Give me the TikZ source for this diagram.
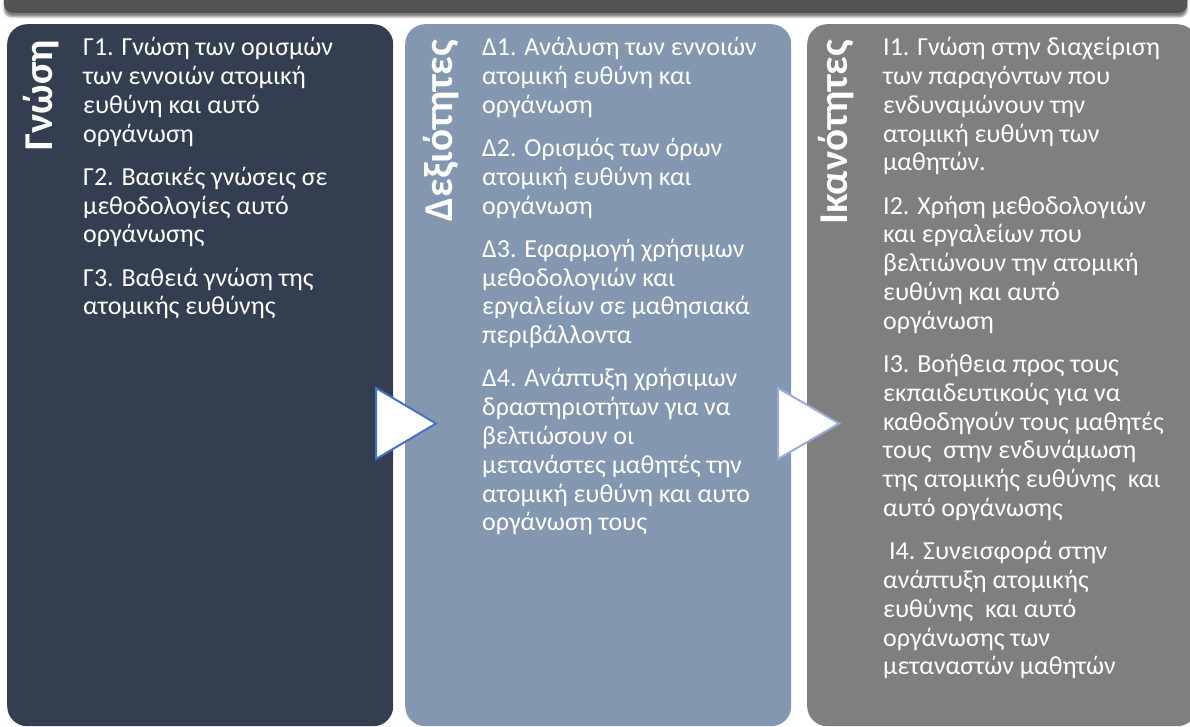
\documentclass[tikz,border=0pt]{standalone}
\usepackage{fontspec}
\setmainfont{Carlito}
\usetikzlibrary{positioning, shadows.blur}
\definecolor{barGray}{HTML}{535353}
\definecolor{knowFill}{HTML}{333F50}
\definecolor{skillFill}{HTML}{8497B0}
\definecolor{abilFill}{HTML}{7F7F7F}
\definecolor{triBlue}{HTML}{4472C4}
\definecolor{triLight}{HTML}{9DABDD}

\begin{document}
\begin{tikzpicture}[x=1pt, y=-1pt,
						panel/.style={rectangle, rounded corners=20pt, minimum width=386pt, minimum height=702pt, anchor=north west, inner sep=0pt},
						title/.style={rotate=90, anchor=base east, inner sep=0pt, text=white, font=\fontsize{41}{44}\selectfont\bfseries},
						item/.style={inner sep=0pt, align=left, text=white, font=\fontsize{26}{28.8}\selectfont},
						tri/.style={fill=white, line width=2pt, line join=miter},]
		\useasboundingbox (0,0) rectangle (1190,726);
		\node (bar) [rectangle, rounded corners=8pt, fill=barGray, minimum width=1183pt, minimum height=40pt, anchor=south west, inner sep=0pt,
			blur shadow={shadow xshift=0pt, shadow yshift=-4pt, shadow blur steps=6, shadow opacity=50}] at (4,13) {};

		\node (know) [panel, fill=knowFill] at (7,24) {};
		\node (skill) [panel, fill=skillFill] at (405,24) {};
		\node (abil) [panel, fill=abilFill, minimum width=390pt] at (807,24) {};

		% arrows between the columns
		\draw[tri, draw=triBlue] (376,388) -- (436,423.5) -- (376,459) -- cycle;
		\draw[tri, draw=triLight] (778,388) -- (839,423.5) -- (778,459) -- cycle;

		\node (know_t) [title] at (52.7,40) {Γνώση};
		\node (skill_t) [title] at (452.7,40) {Δεξιότητες};
		\node (abil_t) [title] at (847,40) {Ικανότητες};

		\node (g1) [item, anchor=north west] at (83,35.4) {\strut Γ1. Γνώση των ορισμών\\των εννοιών ατομική\\ευθύνη και αυτό\\οργάνωση\strut};
		\node (g2) [item, below right=14pt and 0pt of g1.south west] {\strut Γ2. Βασικές γνώσεις σε\\μεθοδολογίες αυτό\\οργάνωσης\strut};
		\node (g3) [item, below right=14pt and 0pt of g2.south west] {\strut Γ3. Βαθειά γνώση της\\ατομικής ευθύνης\strut};

		\node (d1) [item, anchor=north west] at (482,35.4) {\strut Δ1. Ανάλυση των εννοιών\\ατομική ευθύνη και\\οργάνωση\strut};
		\node (d2) [item, below right=14pt and 0pt of d1.south west] {\strut Δ2. Ορισμός των όρων\\ατομική ευθύνη και\\οργάνωση\strut};
		\node (d3) [item, below right=14pt and 0pt of d2.south west] {\strut Δ3. Εφαρμογή χρήσιμων\\μεθοδολογιών και\\εργαλείων σε μαθησιακά\\περιβάλλοντα\strut};
		\node (d4) [item, below right=14pt and 0pt of d3.south west] {\strut Δ4. Ανάπτυξη χρήσιμων\\δραστηριοτήτων για να\\βελτιώσουν οι\\μετανάστες μαθητές την\\ατομική ευθύνη και αυτο\\οργάνωση τους\strut};

		\node (i1) [item, anchor=north west] at (883,35.4) {\strut Ι1. Γνώση στην διαχείριση\\των παραγόντων που\\ενδυναμώνουν την\\ατομική ευθύνη των\\μαθητών.\strut};
		\node (i2) [item, below right=14pt and 0pt of i1.south west] {\strut Ι2. Χρήση μεθοδολογιών\\και εργαλείων που\\βελτιώνουν την ατομική\\ευθύνη και αυτό\\οργάνωση\strut};
		\node (i3) [item, below right=14pt and 0pt of i2.south west] {\strut Ι3. Βοήθεια προς τους\\εκπαιδευτικούς για να\\καθοδηγούν τους μαθητές\\τους\ \ στην ενδυνάμωση\\της ατομικής ευθύνης\ \ και\\αυτό οργάνωσης\strut};
		\node (i4) [item, below right=14pt and 0pt of i3.south west] {\strut\ Ι4. Συνεισφορά στην\\ανάπτυξη ατομικής\\ευθύνης\ \ και αυτό\\οργάνωσης των\\μεταναστών μαθητών\strut};
	\end{tikzpicture}
\end{document}
